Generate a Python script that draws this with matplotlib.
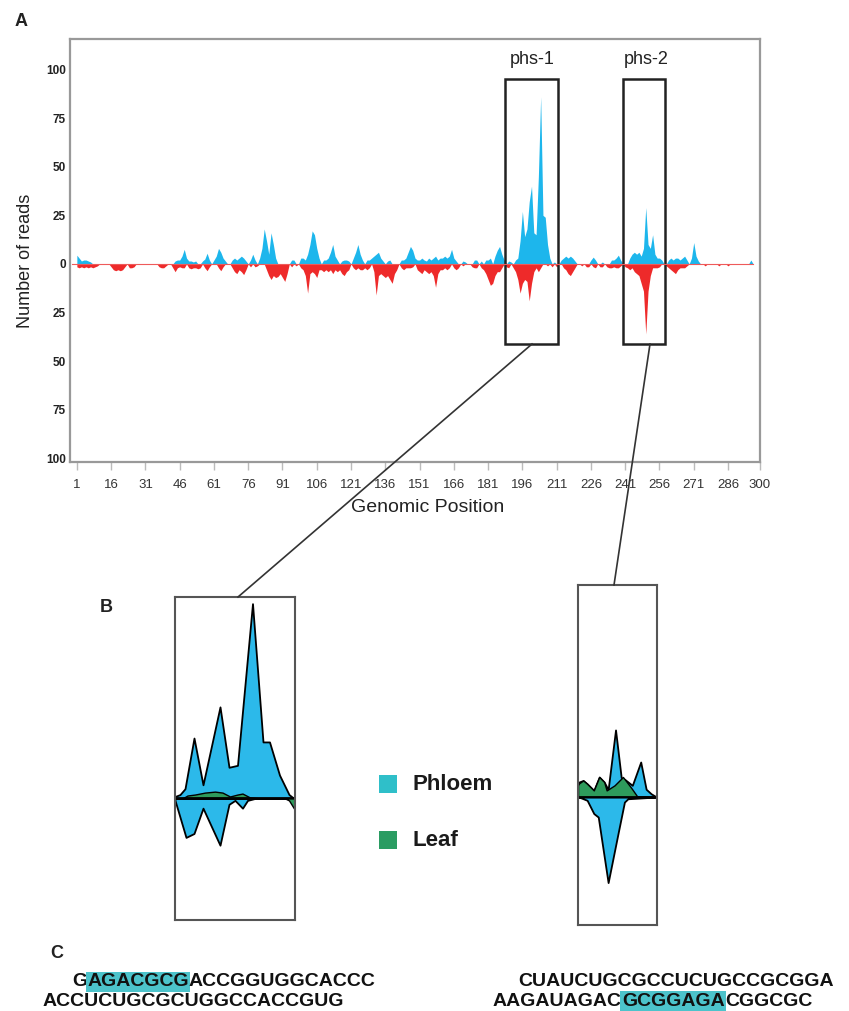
import numpy as np
import matplotlib
matplotlib.use("Agg")
import matplotlib.pyplot as plt
from matplotlib.patches import Rectangle
from matplotlib.lines import Line2D

plt.rcParams['font.family'] = ['Liberation Sans', 'DejaVu Sans']

W, H = 849, 1011

# ---- panel A : reads per genomic position (plus strand up, minus strand down)
plus_pos = [1, 2, 3, 4, 5, 6, 7,
            44, 45, 46, 47, 48, 49, 50, 51, 52, 53, 56, 57, 58, 59,
            61, 62, 63, 64, 65, 66, 69, 70, 71, 72, 73, 74, 75, 77, 78, 79,
            81, 82, 83, 84, 85, 86, 87, 88, 95, 96, 99, 100, 101,
            102, 103, 104, 105, 106, 107, 109, 110, 111, 112, 113, 114, 115,
            117, 118, 119, 120, 122, 123, 124, 125, 126,
            128, 129, 130, 131, 132, 133, 134, 135, 137, 138,
            143, 144, 145, 146, 147, 148, 149, 150, 151, 152, 153, 154, 155, 156,
            157, 158, 159, 160, 161, 162, 163, 164, 165, 166, 167,
            170, 171, 175, 176, 178, 180, 181, 182, 184, 185, 186, 187, 188,
            190, 191, 193, 194, 195, 196, 197, 198, 199, 200, 201, 202, 203, 204,
            205, 206, 207, 208, 210, 213, 214, 215, 216, 217, 218, 219,
            226, 227, 228, 231, 235, 236, 237, 238, 239,
            243, 244, 245, 246, 247, 248, 249, 250, 251, 252, 253, 254, 255, 256, 257,
            260, 261, 262, 263, 264, 265, 266, 267, 268, 270, 271, 272, 273, 296]
plus_val = [4.5, 3, 1.5, 2, 2, 1.5, 1,
            1.5, 2, 2, 4, 7.5, 3, 1.5, 1.5, 1, 1.5, 1.5, 2.5, 5.5, 2,
            2, 4, 8, 6, 3, 1.5, 2, 3, 2, 3, 4, 3, 1.5, 2, 5, 2,
            3, 8, 18, 12, 5, 16, 10, 3, 2, 2, 3, 3, 2,
            5, 10, 17, 15, 8, 3, 2, 2, 3, 6, 10, 4, 2,
            1.5, 2, 2, 1.5, 3, 6, 10, 5, 2,
            2, 2, 3, 4, 5, 6, 3, 1.5, 1.5, 2,
            2, 2, 3, 6, 9, 7, 3, 2, 2, 3, 2, 1.5, 3, 2,
            3, 4, 2, 3, 3, 4, 3, 4, 7.5, 3, 1.5,
            1.5, 1, 2, 2, 1.5, 2, 2, 3, 4, 7, 9, 5, 2,
            1.5, 1, 2, 3, 12, 27, 14, 18, 32, 40, 16, 15, 45, 86,
            25, 24, 10, 3, 1, 2, 3, 4, 3, 4, 3, 1.5,
            2, 3.5, 2, 1, 2, 2, 3, 4.5, 2,
            3, 5, 6, 5, 6, 4, 8, 29, 10, 8, 15, 5, 3, 3, 2,
            2, 3, 2, 3, 3, 2, 3, 4, 2, 3, 11, 4, 1.5, 2]

minus_pos = [1, 2, 3, 4, 5, 6, 7, 8, 9, 10,
             16, 17, 18, 19, 20, 21, 22, 24, 25, 26, 37, 38, 39, 40,
             43, 44, 45, 46, 47, 48, 50, 51, 52, 53, 54, 55, 57, 58, 59,
             63, 64, 65, 69, 70, 71, 72, 73, 74, 75, 77, 79, 80,
             84, 85, 86, 87, 88, 89, 90, 91, 92, 93, 95, 97, 99, 100, 101, 102,
             103, 104, 105, 106, 107, 108, 109, 110, 111, 112, 113, 114, 115, 116,
             117, 118, 119, 120, 122, 123, 124, 125, 126, 127, 128, 129,
             131, 132, 133, 134, 135, 136, 137, 138, 139, 140, 141,
             143, 144, 145, 146, 147, 148, 150, 151, 152, 153, 154, 155, 156, 157,
             158, 159, 160, 161, 162, 163, 164, 166, 167, 168, 170,
             174, 175, 176, 178, 179, 180, 181, 182, 183, 184, 185, 186, 187,
             189, 190, 192, 193, 194, 195, 196, 197, 198, 199, 200, 201, 202, 203, 204,
             207, 209, 211, 214, 215, 216, 217, 218, 219,
             222, 224, 225, 227, 228, 230, 231, 233, 234, 235, 236, 237, 238, 239,
             241, 242, 243, 244, 245, 246, 247, 248, 249, 250, 251, 252, 253, 254, 255, 256,
             259, 260, 261, 262, 263, 264, 265, 266, 267, 268, 276, 282, 286]
minus_val = [1.5, 2, 1.5, 2, 1.5, 2, 1.5, 2, 1.5, 1,
             1.5, 3, 3.5, 3, 3.5, 3, 1.5, 2, 2, 1.5, 1.5, 2, 2, 1,
             2, 4, 2, 1.5, 2, 2, 2, 2.5, 2, 2, 2.5, 2, 2, 3.5, 1.5,
             2, 3.5, 1.5, 2, 4, 5, 3, 4, 5.5, 3, 1.5, 1.5, 1,
             3, 6, 8, 6, 7, 6.5, 5, 7, 9, 5, 1.5, 1, 2, 3, 6, 15,
             5, 4, 5, 7, 3, 3, 4, 3, 4, 3, 5, 3, 4, 3,
             5, 6, 4, 3, 2, 3, 2, 3, 3, 2, 3, 2,
             4, 16, 6, 5, 6, 7, 6, 8, 10, 5, 3,
             2, 3, 2, 2, 2, 1.5, 3, 4, 5, 3, 4, 5, 4, 6,
             12, 5, 3, 3, 2, 3, 2, 2, 3, 2, 1,
             1.5, 2, 2, 2, 3, 5, 8, 11, 10, 6, 4, 4, 2,
             1.5, 2, 2, 4, 8, 15, 10, 8, 9, 19, 10, 4, 2, 4, 2,
             1, 1.5, 1.5, 2, 3, 5, 6, 4, 2,
             1, 1.5, 1.5, 1.5, 2, 1.5, 1.5, 1.5, 2, 2, 1.5, 2, 2, 1,
             1.5, 2, 3, 2, 4, 5, 6, 10, 14, 36, 14, 6, 2, 2, 2, 1.5,
             1, 2, 3, 4, 5, 3, 2, 2, 2, 1, 1, 1, 1]

x_ticks = list(range(1, 287, 15)) + [300]
y_ticks = [-100, -75, -50, -25, 0, 25, 50, 75, 100]

# ---- panel B : zoom of phs-1 and phs-2, phloem vs leaf
p1_phl_up_x = [0, 1, 2, 3.8, 5.6, 9, 10.8, 12.5, 15.5, 17.6, 18.9, 20.9, 22.8, 23.8, 24]
p1_phl_up_y = [1, 2, 5, 31, 7, 47, 16, 17, 100, 29, 29, 12, 2, 0, 0]
p1_phl_dn_x = [0, 2.2, 3.8, 5.6, 9, 10.8, 12, 13.5, 14.5, 16, 24]
p1_phl_dn_y = [-1, -20, -18, -5, -24, -3, -1, -5, -1, 0, 0]
p1_leaf_up_x = [0, 1.5, 2.5, 4, 6, 8, 9.5, 11, 12.5, 13.5, 15, 17, 24]
p1_leaf_up_y = [0, 0, 1.5, 2, 3, 3.5, 3, 1, 2, 2.5, 0.5, 0, 0]
p1_leaf_dn_x = [0, 22, 22.8, 24]
p1_leaf_dn_y = [0, 0, -1, -6]

p2_phl_up_x = [0, 0.2, 1.05, 1.85, 3.2, 4.3, 5.3, 6.1, 7.6, 8.75, 9.5, 11, 12.7, 13.8, 14.8, 15.9, 16]
p2_phl_up_y = [6, 7.7, 8.5, 6.8, 3.4, 10.3, 7.7, 3.8, 34.5, 10, 9, 6, 18, 4, 1.7, 0, 0]
p2_phl_dn_x = [0, 0.2, 1.85, 3.2, 4.1, 6.1, 8.1, 9.4, 10.1, 15.9, 16]
p2_phl_dn_y = [0, 0, -1.7, -8.5, -10.3, -44, -18.8, -2.6, -0.9, 0, 0]
p2_leaf_up_x = [0, 0.2, 1.05, 1.85, 3.2, 4.3, 5.3, 5.8, 7.4, 9.1, 10.7, 12, 16]
p2_leaf_up_y = [6, 7, 8.5, 6.8, 3.4, 10.3, 7.7, 3.4, 6, 10.3, 5, 0.3, 0]

legend_labels = ['Phloem', 'Leaf']
legend_colors = ['#2FBFC9', '#2A9C62']

# ---- panel C : sequences (prefix, highlighted, suffix)
seq_left_1 = ('G', 'AGACGCG', 'ACCGGUGGCACCC')
seq_left_2 = ('ACCUCUGCGCUGGCCACCGUG', '', '')
seq_right_1 = ('CUAUCUGCGCCUCUGCCGCGGA', '', '')
seq_right_2 = ('AAGAUAGAC', 'GCGGAGA', 'CGGCGC')

blue = '#1DB6EC'
red = '#EE2A2A'
phloem_fill = '#2CB9EA'
leaf_fill = '#2E9B5C'


def fx(x):
    return x / W


def fy(y):
    return 1 - y / H


fig = plt.figure(figsize=(W / 100, H / 100), dpi=100)

# ================= A =================
ax = fig.add_axes([fx(70), fy(462), 690 / W, 423 / H])
positions = np.arange(1, 301)
plus = np.zeros(300)
plus[np.array(plus_pos) - 1] = plus_val
minus = np.zeros(300)
minus[np.array(minus_pos) - 1] = minus_val

ax.fill_between(positions, 0, plus, color=blue, lw=0)
ax.fill_between(positions, 0, -minus, color=red, lw=0)
ax.plot([-1, 297], [0, 0], color='#EE5A5A', lw=0.8)

ax.set_xlim(-2, 299.5)
ax.set_ylim(-101.9, 115.7)
ax.set_xticks(x_ticks)
ax.set_xticklabels([str(t) for t in x_ticks], fontsize=9.5, color='#333333')
ax.set_yticks(y_ticks)
ax.set_yticklabels([str(abs(t)) for t in y_ticks], fontsize=8.5, fontweight='bold', color='#222222')
ax.tick_params(axis='y', length=0, pad=3)
ax.tick_params(axis='x', length=6, width=1, color='#BBBBBB', pad=6)
for s in ax.spines.values():
    s.set_color('#999999')
    s.set_linewidth(1.6)

# boxes around phs-1 and phs-2
ax.add_patch(Rectangle((188.3, -41.2), 23.1, 136.4, fill=False, ec='#222222', lw=1.8, clip_on=False))
ax.add_patch(Rectangle((240.2, -41.2), 18.3, 136.4, fill=False, ec='#222222', lw=1.8, clip_on=False))

fig.text(fx(532), fy(60), 'phs-1', ha='center', va='center', fontsize=13, color='#222222')
fig.text(fx(646), fy(60), 'phs-2', ha='center', va='center', fontsize=13, color='#222222')

fig.text(fx(15), fy(22), 'A', ha='left', va='center', fontsize=13, fontweight='bold', color='#222222')
fig.text(fx(26), fy(261), 'Number of reads', rotation=90, ha='center', va='center', fontsize=13, color='#222222')
fig.text(fx(428), fy(508), 'Genomic Position', ha='center', va='center', fontsize=14, color='#222222')

# connecting lines to panel B
fig.add_artist(Line2D([fx(532), fx(238)], [fy(344), fy(597)], color='#333333', lw=1.2))
fig.add_artist(Line2D([fx(650), fx(614)], [fy(344), fy(585)], color='#333333', lw=1.2))

# ================= B =================
fig.text(fx(100), fy(607), 'B', ha='left', va='center', fontsize=13, fontweight='bold', color='#222222')

ax1 = fig.add_axes([fx(175), fy(920), 120 / W, 323 / H])
ax1.fill_between(p1_phl_up_x, 0, p1_phl_up_y, facecolor=phloem_fill, edgecolor='black', lw=1.3)
ax1.fill_between(p1_phl_dn_x, 0, p1_phl_dn_y, facecolor=phloem_fill, edgecolor='black', lw=1.3)
ax1.fill_between(p1_leaf_up_x, 0, p1_leaf_up_y, facecolor=leaf_fill, edgecolor='black', lw=1.0)
ax1.fill_between(p1_leaf_dn_x, 0, p1_leaf_dn_y, facecolor=leaf_fill, edgecolor='black', lw=1.0)
ax1.axhline(0, color='black', lw=1.3)
ax1.set_xlim(0, 24)
ax1.set_ylim(-62.4, 103.4)

ax2 = fig.add_axes([fx(578), fy(925), 79 / W, 340 / H])
ax2.fill_between(p2_phl_up_x, 0, p2_phl_up_y, facecolor=phloem_fill, edgecolor='black', lw=1.3)
ax2.fill_between(p2_phl_dn_x, 0, p2_phl_dn_y, facecolor=phloem_fill, edgecolor='black', lw=1.3)
ax2.fill_between(p2_leaf_up_x, 0, p2_leaf_up_y, facecolor=leaf_fill, edgecolor='black', lw=1.0)
ax2.axhline(0, color='black', lw=1.3)
ax2.set_xlim(0, 16)
ax2.set_ylim(-65.8, 109)

for a in (ax1, ax2):
    a.set_xticks([])
    a.set_yticks([])
    for s in a.spines.values():
        s.set_color('#555555')
        s.set_linewidth(1.5)

# legend
for i, (lab, col) in enumerate(zip(legend_labels, legend_colors)):
    yc = 784 + i * 56
    fig.add_artist(Rectangle((fx(379), fy(yc + 9)), 18 / W, 18 / H, transform=fig.transFigure,
                             facecolor=col, edgecolor='none'))
    fig.text(fx(413), fy(yc), lab, ha='left', va='center', fontsize=16, fontweight='bold', color='#1a1a1a')

# ================= C =================
fig.text(fx(50), fy(953), 'C', ha='left', va='center', fontsize=13, fontweight='bold', color='#222222')

renderer = fig.canvas.get_renderer()


def seq_line(x0, y0, parts):
    x = fx(x0)
    for k, piece in enumerate(parts):
        if not piece:
            continue
        kw = {}
        if k == 1:
            kw['bbox'] = dict(boxstyle='square,pad=0.08', fc='#4CC3CB', ec='none')
        t = fig.text(x, fy(y0), piece, ha='left', va='center', fontsize=14,
                     fontweight='bold', color='#111111', **kw)
        bb = t.get_window_extent(renderer)
        x += bb.width / fig.bbox.width


seq_line(72, 982, seq_left_1)
seq_line(43, 1001, seq_left_2)
seq_line(518, 982, seq_right_1)
seq_line(493, 1001, seq_right_2)

fig.savefig('out.png', dpi=100)
